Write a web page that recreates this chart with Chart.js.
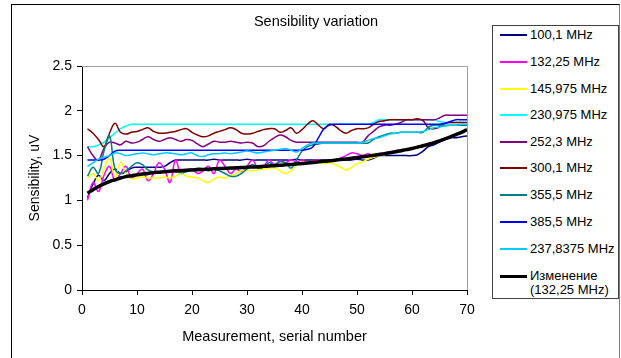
<!DOCTYPE html>
<html>
<head>
<meta charset="utf-8">
<script src="https://cdn.jsdelivr.net/npm/chart.js@4/dist/chart.umd.min.js"></script>
<style>
  html, body { margin: 0; padding: 0; background: #fff; }
  body { width: 621px; height: 358px; position: relative; overflow: hidden; font-family: 'Liberation Sans', Arial, sans-serif; }
  #frame { position: absolute; left: 11px; top: 4px; width: 607px; height: 400px; border-left: 1px solid #000; border-top: 1px solid #000; border-right: 1px solid #808080; }
  #c { position: absolute; left: 0; top: 0; }
  #title { position: absolute; left: 216px; width: 200px; top: 13px; text-align: center; font-size: 14.5px; line-height: 17px; color: #000; white-space: nowrap; }
  #legend { position: absolute; left: 492px; top: 25px; width: 125px; height: 272px; border: 1px solid #404040; background: #fff; }
  .li { position: absolute; left: 500px; font-size: 13px; line-height: 14px; color: #000; white-space: nowrap; }
  .sw { position: absolute; left: 0; width: 27px; }
  .tx { position: absolute; left: 30px; top: 0; }
</style>
</head>
<body>
<div id="frame"></div>
<canvas id="c" width="621" height="358"></canvas>
<div id="title">Sensibility variation</div>
<div id="legend"></div>
<div id="legendItems"></div>
<script>
const measurementNumbers = [1,2,3,4,5,6,7,8,9,10,11,12,13,14,15,16,17,18,19,20,21,22,23,24,25,26,27,28,29,30,31,32,33,34,35,36,37,38,39,40,41,42,43,44,45,46,47,48,49,50,51,52,53,54,55,56,57,58,59,60,61,62,63,64,65,66,67,68,69,70];

const seriesNames = ["100,1 MHz","132,25 MHz","145,975 MHz","230,975 MHz","252,3 MHz","300,1 MHz","355,5 MHz","385,5 MHz","237,8375 MHz","Изменение (132,25 MHz)"];
const seriesColors = ["#000080","#FF00FF","#FFFF00","#00FFFF","#800080","#800000","#008080","#0000FF","#00CCFF","#000000"];

const s100_1 = [1.03,1.18,1.28,1.22,1.30,1.35,1.30,1.32,1.36,1.37,1.37,1.37,1.37,1.37,1.38,1.42,1.45,1.45,1.45,1.45,1.45,1.45,1.45,1.46,1.45,1.45,1.45,1.45,1.45,1.46,1.45,1.45,1.45,1.45,1.45,1.45,1.45,1.45,1.46,1.45,1.45,1.45,1.45,1.45,1.45,1.45,1.45,1.45,1.45,1.46,1.45,1.45,1.47,1.50,1.50,1.50,1.50,1.50,1.50,1.50,1.51,1.55,1.60,1.62,1.65,1.68,1.70,1.70,1.71,1.72];
const s132_25 = [1.00,1.20,1.10,1.28,1.38,1.22,1.30,1.38,1.25,1.30,1.35,1.22,1.30,1.42,1.35,1.20,1.45,1.30,1.33,1.35,1.30,1.33,1.38,1.30,1.45,1.38,1.30,1.35,1.32,1.38,1.45,1.36,1.38,1.45,1.40,1.44,1.42,1.45,1.43,1.45,1.42,1.44,1.45,1.43,1.45,1.44,1.47,1.50,1.53,1.52,1.50,1.52,1.50,1.52,1.53,1.54,1.55,1.56,1.57,1.58,1.60,1.61,1.63,1.65,1.66,1.68,1.70,1.73,1.76,1.79];
const s145_975 = [1.25,1.30,1.22,1.35,1.47,1.26,1.43,1.30,1.24,1.25,1.26,1.25,1.25,1.25,1.26,1.25,1.27,1.30,1.27,1.26,1.25,1.22,1.20,1.24,1.26,1.25,1.28,1.30,1.33,1.34,1.33,1.34,1.35,1.36,1.36,1.33,1.30,1.33,1.40,1.43,1.42,1.43,1.42,1.41,1.42,1.40,1.37,1.34,1.37,1.41,1.43,1.46,1.48,1.50,1.51,1.53,1.54,1.55,1.57,1.58,1.60,1.62,1.63,1.65,1.67,1.69,1.71,1.73,1.75,1.78];
const s230_975 = [1.60,1.60,1.62,1.65,1.70,1.75,1.80,1.83,1.85,1.85,1.85,1.85,1.85,1.85,1.85,1.85,1.85,1.85,1.85,1.85,1.85,1.85,1.85,1.85,1.85,1.85,1.85,1.85,1.85,1.85,1.85,1.85,1.85,1.85,1.85,1.85,1.85,1.85,1.85,1.85,1.85,1.85,1.85,1.85,1.85,1.85,1.85,1.85,1.85,1.85,1.85,1.85,1.87,1.90,1.90,1.90,1.90,1.90,1.90,1.90,1.90,1.90,1.90,1.90,1.88,1.87,1.87,1.87,1.87,1.87];
const s252_3 = [1.60,1.50,1.45,1.58,1.65,1.64,1.62,1.66,1.64,1.65,1.68,1.71,1.68,1.66,1.68,1.70,1.68,1.66,1.68,1.67,1.63,1.60,1.63,1.66,1.65,1.65,1.66,1.65,1.64,1.65,1.64,1.60,1.61,1.66,1.70,1.73,1.71,1.67,1.65,1.65,1.65,1.65,1.65,1.65,1.65,1.65,1.65,1.65,1.65,1.65,1.65,1.72,1.77,1.82,1.84,1.84,1.85,1.87,1.90,1.90,1.90,1.90,1.90,1.90,1.92,1.95,1.95,1.95,1.95,1.95];
const s300_1 = [1.80,1.75,1.68,1.60,1.75,1.86,1.76,1.74,1.76,1.77,1.79,1.81,1.77,1.75,1.75,1.76,1.77,1.79,1.80,1.76,1.73,1.71,1.72,1.75,1.77,1.79,1.81,1.79,1.75,1.74,1.75,1.77,1.79,1.80,1.80,1.76,1.78,1.81,1.75,1.79,1.85,1.89,1.84,1.80,1.85,1.83,1.78,1.75,1.78,1.80,1.80,1.81,1.85,1.88,1.89,1.90,1.90,1.90,1.90,1.90,1.91,1.89,1.81,1.80,1.82,1.86,1.87,1.87,1.87,1.87];
const s355_5 = [1.27,1.37,1.30,1.55,1.72,1.35,1.30,1.33,1.38,1.42,1.40,1.34,1.32,1.31,1.32,1.33,1.32,1.31,1.32,1.34,1.36,1.35,1.33,1.35,1.33,1.30,1.27,1.27,1.30,1.35,1.40,1.36,1.37,1.42,1.40,1.43,1.42,1.36,1.45,1.55,1.60,1.62,1.63,1.64,1.64,1.64,1.64,1.64,1.64,1.64,1.64,1.64,1.68,1.71,1.73,1.75,1.75,1.76,1.76,1.76,1.76,1.76,1.82,1.84,1.84,1.84,1.84,1.84,1.84,1.84];
const s385_5 = [1.45,1.45,1.45,1.46,1.50,1.55,1.56,1.56,1.56,1.56,1.56,1.56,1.56,1.56,1.56,1.56,1.56,1.56,1.56,1.56,1.56,1.56,1.56,1.56,1.56,1.56,1.56,1.56,1.56,1.56,1.56,1.56,1.56,1.56,1.56,1.56,1.56,1.56,1.56,1.56,1.57,1.60,1.70,1.80,1.84,1.85,1.85,1.85,1.85,1.85,1.85,1.85,1.85,1.85,1.85,1.85,1.85,1.85,1.85,1.85,1.85,1.85,1.85,1.85,1.85,1.86,1.88,1.90,1.90,1.90];
const s237_8375 = [1.38,1.42,1.46,1.48,1.50,1.53,1.52,1.50,1.51,1.52,1.53,1.52,1.51,1.52,1.53,1.53,1.52,1.51,1.52,1.53,1.50,1.49,1.51,1.52,1.52,1.53,1.52,1.53,1.54,1.55,1.54,1.53,1.54,1.55,1.56,1.57,1.58,1.56,1.54,1.58,1.62,1.64,1.64,1.64,1.64,1.64,1.64,1.64,1.64,1.64,1.65,1.67,1.69,1.70,1.72,1.74,1.75,1.76,1.76,1.76,1.76,1.77,1.79,1.81,1.82,1.83,1.84,1.84,1.85,1.85];
const trend132_25 = [1.08,1.12,1.155,1.185,1.21,1.23,1.25,1.265,1.275,1.285,1.295,1.30,1.31,1.315,1.32,1.325,1.33,1.333,1.336,1.34,1.343,1.346,1.349,1.352,1.355,1.358,1.361,1.364,1.367,1.37,1.373,1.376,1.38,1.384,1.388,1.392,1.397,1.402,1.407,1.412,1.418,1.424,1.43,1.436,1.442,1.449,1.456,1.463,1.47,1.478,1.486,1.494,1.503,1.512,1.522,1.532,1.543,1.555,1.567,1.58,1.595,1.61,1.627,1.645,1.665,1.686,1.709,1.734,1.76,1.79];

const xTicks = [0,10,20,30,40,50,60,70];
const yTicks = [0,0.5,1,1.5,2,2.5];

const allSeries = [s100_1,s132_25,s145_975,s230_975,s252_3,s300_1,s355_5,s385_5,s237_8375,trend132_25];

const FONT = "'Liberation Sans', Arial, sans-serif";
Chart.defaults.font.family = FONT;
Chart.defaults.color = '#000';

const datasets = allSeries.map((vals, i) => ({
  label: seriesNames[i],
  data: vals.map((v, k) => ({x: measurementNumbers[k], y: v})),
  borderColor: seriesColors[i],
  backgroundColor: seriesColors[i],
  borderWidth: i === 9 ? 3.5 : 1.5,
  pointRadius: 0,
  tension: 0.4,
  fill: false,
  order: 10 - i
}));

const plotFrame = {
  id: 'plotFrame',
  beforeDatasetsDraw(chart) {
    const {ctx, chartArea: a} = chart;
    ctx.save();
    ctx.strokeStyle = '#a0a0a0';
    ctx.lineWidth = 1;
    ctx.beginPath();
    ctx.moveTo(a.left, Math.round(a.top) + 0.5);
    ctx.lineTo(Math.round(a.right) + 0.5, Math.round(a.top) + 0.5);
    ctx.lineTo(Math.round(a.right) + 0.5, a.bottom);
    ctx.stroke();
    ctx.restore();
  }
};

new Chart(document.getElementById('c'), {
  type: 'line',
  data: { datasets },
  plugins: [plotFrame],
  options: {
    responsive: false,
    animation: false,
    devicePixelRatio: 1,
    layout: { padding: { left: 12, top: 66, right: 154, bottom: 0 } },
    plugins: { legend: { display: false }, title: { display: false }, tooltip: { enabled: false } },
    scales: {
      x: {
        type: 'linear', min: 0, max: 70,
        afterBuildTicks: (s) => { s.ticks = xTicks.map(v => ({value: v})); },
        afterFit: (s) => { s.height = 68; },
        grid: { drawOnChartArea: false, drawTicks: true, tickLength: 5, color: '#000' },
        border: { display: true, color: '#000', width: 1 },
        ticks: { font: { size: 14 }, padding: 7, color: '#000', maxRotation: 0 },
        title: { display: true, text: 'Measurement, serial number', font: { size: 14.5 }, color: '#000', padding: { top: 2, bottom: 12 } }
      },
      y: {
        type: 'linear', min: 0, max: 2.5,
        afterBuildTicks: (s) => { s.ticks = yTicks.map(v => ({value: v})); },
        afterFit: (s) => { s.width = 70; },
        grid: { drawOnChartArea: false, drawTicks: true, tickLength: 5, color: '#000' },
        border: { display: true, color: '#000', width: 1 },
        ticks: { font: { size: 14 }, padding: 5, color: '#000', callback: (v) => String(v) },
        title: { display: true, text: 'Sensibility, uV', font: { size: 14 }, color: '#000', padding: { top: 15, bottom: 2 } }
      }
    }
  }
});

// HTML legend
const legendCenters = [35, 62, 89, 115, 142, 168, 195, 222, 249, 276];
const holder = document.getElementById('legendItems');
seriesNames.forEach((name, i) => {
  const row = document.createElement('div');
  row.className = 'li';
  const cy = legendCenters[i];
  row.style.top = (cy - 7) + 'px';
  const sw = document.createElement('div');
  sw.className = 'sw';
  const h = i === 9 ? 3 : 2;
  sw.style.top = (i === 9 ? 6 : 6) + 'px';
  sw.style.height = h + 'px';
  sw.style.backgroundColor = seriesColors[i];
  const tx = document.createElement('div');
  tx.className = 'tx';
  if (i === 9) {
    tx.innerHTML = 'Изменение<br>(132,25 MHz)';
  } else {
    tx.textContent = name;
  }
  row.appendChild(sw);
  row.appendChild(tx);
  holder.appendChild(row);
});
</script>
</body>
</html>
